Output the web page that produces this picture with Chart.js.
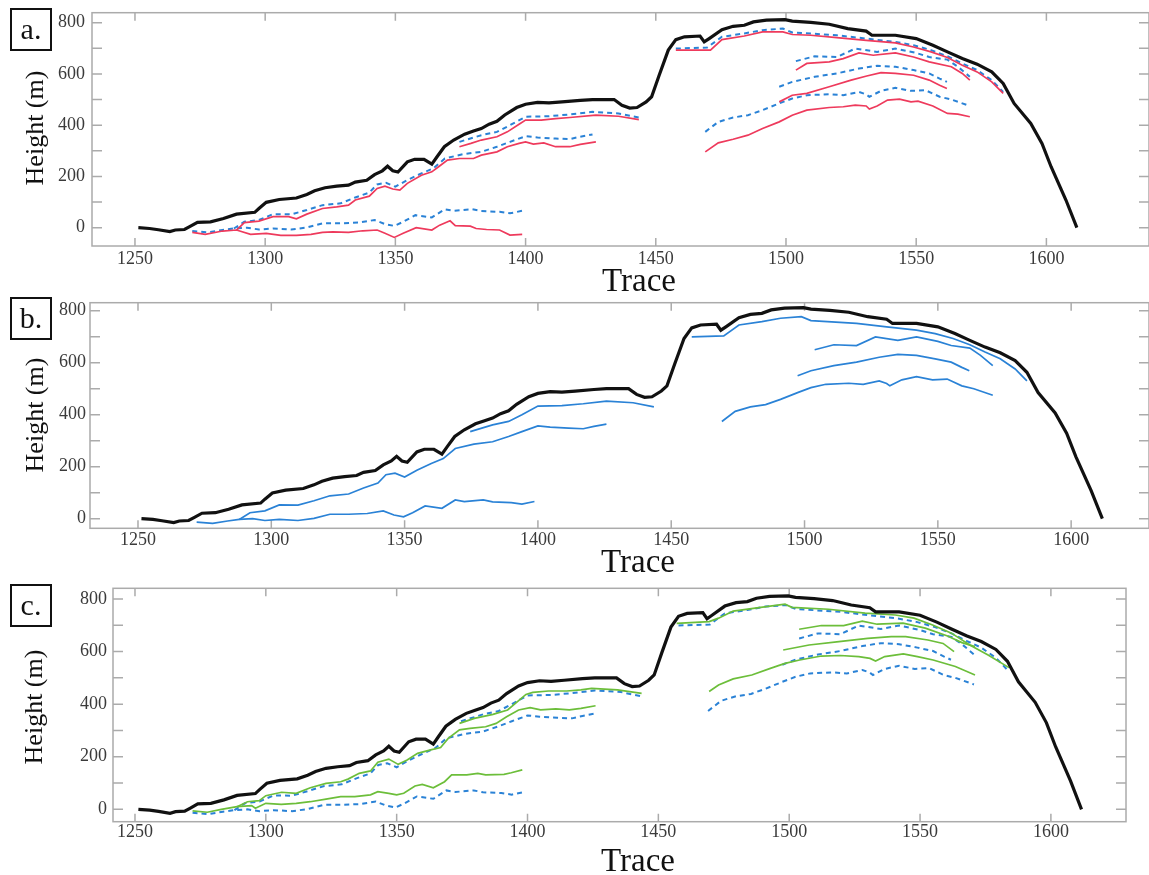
<!DOCTYPE html>
<html>
<head>
<meta charset="utf-8">
<script src="https://cdn.jsdelivr.net/npm/chart.js@4.4.1/dist/chart.umd.min.js"></script>
<style>
  html, body { margin: 0; padding: 0; background: #fff; }
  body { position: relative; width: 1149px; height: 875px; overflow: hidden; font-family: "Liberation Serif", serif; }
  canvas { position: absolute; left: 0; }
  .tag { position: absolute; left: 10px; width: 38px; height: 39px; border: 2px solid #111; font-size: 30px; line-height: 37px; text-align: center; color: #111; }
  .ytitle { position: absolute; font-size: 26px; line-height: 26px; white-space: nowrap; color: #111; transform: translate(-50%, -50%) rotate(-90deg); }
  .xtitle { position: absolute; font-size: 33px; line-height: 33px; white-space: nowrap; color: #111; transform: translateX(-50%); }
</style>
</head>
<body>
<canvas id="chartA" width="1149" height="275" style="top:0px"></canvas>
<canvas id="chartB" width="1149" height="275" style="top:290px"></canvas>
<canvas id="chartC" width="1149" height="275" style="top:575px"></canvas>

<div class="tag" style="top:8px">a.</div>
<div class="tag" style="top:297px">b.</div>
<div class="tag" style="top:584px">c.</div>

<div class="ytitle" style="left:35px;top:128px">Height (m)</div>
<div class="ytitle" style="left:35px;top:415px">Height (m)</div>
<div class="ytitle" style="left:34px;top:707px">Height (m)</div>

<div class="xtitle" style="left:639px;top:264px">Trace</div>
<div class="xtitle" style="left:638px;top:545px">Trace</div>
<div class="xtitle" style="left:638px;top:844px">Trace</div>

<script>
// tick values shared by all three panels
const xTicks = [1250, 1300, 1350, 1400, 1450, 1500, 1550, 1600];
const yTicks = [0, 200, 400, 600, 800];
const yMinorTicks = [100, 300, 500, 700];

// ground surface, [trace, height]
const surface = [[1251.3,0],[1255.6,-3],[1259,-8],[1263.4,-15],[1265.5,-9],[1269,-7],[1271,4],[1274,21],[1279,23],[1284,36],[1289,53],[1296,60],[1297.6,75],[1300.4,99],[1305.4,110],[1312,116],[1316,130],[1319,144],[1323,156],[1327.5,162],[1332,166],[1334.6,178],[1339,185],[1342,207],[1345,222],[1347,240],[1349,222],[1351,217],[1354.6,257],[1357.4,267],[1361,267],[1364,248],[1366,277],[1368.8,316],[1372.4,342],[1376.6,365],[1380,377],[1383,387],[1386,404],[1389,415],[1392,440],[1396.6,469],[1400,482],[1404.6,489],[1409,487],[1414,491],[1421,497],[1425.7,500],[1434,500],[1437,478],[1440,467],[1442.8,469],[1446.3,491],[1448.4,511],[1451.3,595],[1454.8,693],[1457.7,734],[1461,745],[1467,748],[1468.6,725],[1470.5,738],[1475.4,773],[1479.7,786],[1484,790],[1487.5,803],[1492.5,810],[1499.6,812],[1502.4,806],[1509.5,801],[1516.6,794],[1523.7,777],[1530.8,767],[1533,751],[1542,751],[1550,738],[1556.4,712],[1562,686],[1567.7,660],[1573.4,638],[1579,608],[1583.4,563],[1587.6,485],[1594,407],[1598.3,329],[1601.8,238],[1607.5,108],[1611.7,0]];

// blue horizons (dashed in a and c, solid in b)
const blueL1 = [[1272,-13],[1278,-18],[1283.6,-9],[1288,-3],[1293,0],[1297.6,-7],[1303,-3],[1310,-7],[1316,1],[1322,17],[1329,17],[1336,20],[1342,30],[1346,14],[1349.6,7],[1353,23],[1357.7,49],[1364,40],[1369,72],[1372.4,66],[1379.5,72],[1383,65],[1390,62],[1394,56],[1398.7,66]];
const blueL2 = [[1288,-3],[1292,23],[1297.6,30],[1303,53],[1310,52],[1316,69],[1322,88],[1329,95],[1334.6,118],[1340,137],[1343,169],[1346.4,175],[1350,160],[1354.6,186],[1360,212],[1364.5,231],[1369,270],[1376,287],[1383,296],[1389,316],[1394,335],[1400,357],[1404.6,352],[1411.5,348],[1417,346],[1421,355],[1425.7,364]];
const blueL3 = [[1374.6,335],[1383,361],[1389,374],[1394,400],[1400,433],[1409,435],[1417,442],[1425.7,452],[1435.7,446],[1443.5,430]];
const blueR1 = [[1457.7,699],[1469.7,703],[1475.4,745],[1484,758],[1491,771],[1498.8,777],[1502.4,762],[1519.5,751],[1530.8,738],[1542,725],[1549,712],[1555.7,693],[1562,669],[1567.7,641],[1573.4,615],[1579,576],[1583.4,530]];
const blueR2 = [[1503.8,650],[1511,669],[1519.5,666],[1526.6,699],[1535,686],[1542,699],[1550,682],[1555,666],[1562,656],[1566,628],[1570.6,589]];
const blueR3 = [[1497.4,550],[1502.4,569],[1511,589],[1519.5,602],[1528,621],[1535,632],[1542,628],[1549,615],[1555,602],[1559,582],[1561.8,569]];
const blueR4 = [[1469,374],[1474,413],[1479.7,430],[1485.4,439],[1491,459],[1497.4,485],[1502.4,504],[1508,517],[1516.6,521],[1522,517],[1528,530],[1530.8,520],[1532,511],[1536.5,534],[1542,546],[1548,534],[1553.5,537],[1559,511],[1563.5,500],[1570.6,475]];

// red horizons (panel a)
const redL1 = [[1272,-18],[1277,-26],[1283.6,-13],[1289,-9],[1294.4,-26],[1300.4,-22],[1306,-30],[1312,-30],[1317.6,-26],[1322,-18],[1326,-16],[1332,-18],[1337.5,-12],[1343,-9],[1346,-22],[1349.6,-38],[1353,-22],[1358,0],[1364,-9],[1367,10],[1371,27],[1373,8],[1378.8,6],[1381,-3],[1385,-7],[1390,-9],[1394,-29],[1398.7,-26]];
const redL2 = [[1289,-9],[1292,20],[1297.6,26],[1303,43],[1309,43],[1312,35],[1316,53],[1322,75],[1327.5,81],[1332,88],[1334.6,108],[1340,123],[1343,153],[1346,162],[1349,151],[1351.7,147],[1354.6,173],[1360,205],[1364,218],[1366.6,238],[1370,264],[1374.6,270],[1380,270],[1383,283],[1389,296],[1393,316],[1397.5,329],[1400,335],[1403,326],[1407,331],[1411.5,316],[1417,316],[1421,325],[1427,335]];
const redL3 = [[1374.6,316],[1379,329],[1383,342],[1389,355],[1393,374],[1397.5,404],[1400,420],[1406,420],[1411.5,426],[1417,430],[1427,439],[1435.7,435],[1443.5,422]];
const redR1 = [[1457.7,693],[1471,693],[1475.4,734],[1484,748],[1491,764],[1498.8,764],[1502.4,754],[1509.5,751],[1519.5,742],[1530.8,731],[1542,721],[1549,705],[1555.7,686],[1562,664],[1567.7,634],[1573.4,608],[1579,569],[1583.4,524]];
const redR2 = [[1503.8,615],[1508,641],[1516.6,647],[1522,660],[1528,682],[1533.5,673],[1542,682],[1549,666],[1555,647],[1563.5,628],[1567.7,602],[1570.6,576]];
const redR3 = [[1497.4,491],[1502.4,517],[1508,524],[1516.6,550],[1525,576],[1531,592],[1536.5,605],[1542,602],[1549,595],[1555,576],[1559,556],[1561.8,543]];
const redR4 = [[1469,296],[1474,331],[1479.7,345],[1485.4,361],[1491,387],[1497.4,413],[1502.4,439],[1508,459],[1516.6,469],[1522,472],[1526.6,478],[1530.8,475],[1532,463],[1535,475],[1539,498],[1543.6,502],[1548,491],[1550.7,494],[1556.4,475],[1562,446],[1566,443],[1570.6,433]];

// green horizons (panel c)
const greenL1 = [[1272,-6],[1277.6,-11],[1283,0],[1289,10],[1294.6,14],[1296,4],[1300,23],[1305.9,19],[1311.6,23],[1317,29],[1323,39],[1328.6,48],[1334,48],[1340,55],[1342.8,67],[1347,61],[1350,55],[1352.7,61],[1357,89],[1359.8,95],[1364,82],[1368.3,105],[1371,131],[1376.8,131],[1381,137],[1384,131],[1391,133],[1393.8,139],[1398,150]];
const greenL2 = [[1289,10],[1293,29],[1297.5,33],[1300,52],[1306,65],[1311.6,61],[1317,82],[1323,99],[1328.6,105],[1331.4,115],[1335.7,137],[1340,146],[1342.8,179],[1347,191],[1350.6,171],[1354,188],[1358,213],[1363,226],[1366.8,235],[1369.7,270],[1374,302],[1378,308],[1384,314],[1388,327],[1392,352],[1396.6,378],[1401,387],[1405,378],[1410.8,382],[1416,378],[1420.4,384],[1426,394]];
const greenL3 = [[1374,327],[1379.7,346],[1386.8,361],[1392.4,378],[1399.4,437],[1402,445],[1408,450],[1415,450],[1420.4,454],[1424.5,460],[1434.4,454],[1443.6,441]];
const greenR1 = [[1457,707],[1469.4,714],[1473,727],[1478.6,754],[1487,765],[1498.4,780],[1501,768],[1515,761],[1529,746],[1540.6,739],[1547.7,727],[1554.8,701],[1562,670],[1569,625],[1576,587],[1584,539]];
const greenR2 = [[1503.8,685],[1512.3,699],[1520.8,699],[1527.9,716],[1533.6,704],[1543.5,708],[1552,689],[1560.5,659],[1566,634],[1571,619]];
const greenR3 = [[1497.7,606],[1507.6,625],[1519,638],[1530,650],[1539,657],[1544.5,657],[1553,644],[1558.8,631],[1563,600]];
const greenR4 = [[1469.4,448],[1473,473],[1478.6,496],[1485.7,511],[1492.8,536],[1498.4,555],[1504,568],[1512.3,583],[1519.5,585],[1526.6,581],[1530.9,574],[1533,564],[1536.5,581],[1543.6,591],[1549,581],[1555,568],[1563.5,543],[1571,511]];

const blueSet = [blueL1, blueL2, blueL3, blueR1, blueR2, blueR3, blueR4];
const redSet = [redL1, redL2, redL3, redR1, redR2, redR3, redR4];
const greenSet = [greenL1, greenL2, greenL3, greenR1, greenR2, greenR3, greenR4];

const RED = "rgb(238,58,92)";
const BLUE = "rgb(42,130,214)";
const GREEN = "rgb(108,190,58)";
const FRAME = "#ababab";

const toXY = (pts) => pts.map(([x, y]) => ({ x, y }));

function line(pts, color, width, dash) {
  return {
    data: toXY(pts),
    borderColor: color,
    borderWidth: width,
    borderDash: dash || [],
    pointRadius: 0,
    tension: 0,
    fill: false,
  };
}

// box around the plot with inward ticks on all four sides
const frameTicks = {
  id: "frameTicks",
  beforeDatasetsDraw(chart) {
    const { ctx, chartArea, scales } = chart;
    const { left, right, top, bottom } = chartArea;
    ctx.save();
    ctx.strokeStyle = FRAME;
    ctx.lineWidth = 1.5;
    ctx.strokeRect(left, top, right - left, bottom - top);
    ctx.beginPath();
    xTicks.forEach((v) => {
      const px = scales.x.getPixelForValue(v);
      ctx.moveTo(px, top); ctx.lineTo(px, top + 8);
      ctx.moveTo(px, bottom); ctx.lineTo(px, bottom - 8);
    });
    yTicks.concat(yMinorTicks).forEach((v) => {
      const py = scales.y.getPixelForValue(v);
      ctx.moveTo(left, py); ctx.lineTo(left + 10, py);
      ctx.moveTo(right, py); ctx.lineTo(right - 10, py);
    });
    ctx.stroke();
    ctx.restore();
  },
};

const tickFont = { family: "'Liberation Serif', serif", size: 18 };

function makePanel(id, datasets, box) {
  return new Chart(document.getElementById(id), {
    type: "line",
    data: { datasets },
    options: {
      responsive: false,
      animation: false,
      events: [],
      layout: { padding: { top: box.top, right: box.right, left: 0, bottom: 0 } },
      plugins: { legend: { display: false }, tooltip: { enabled: false } },
      scales: {
        x: {
          type: "linear",
          min: box.xMin,
          max: box.xMax,
          grid: { display: false, drawTicks: false },
          border: { display: false },
          afterBuildTicks: (s) => { s.ticks = xTicks.map((v) => ({ value: v })); },
          afterFit: (s) => {
            s.height = box.xAxisH;
            s.paddingLeft = s.paddingRight = s.paddingTop = s.paddingBottom = 0;
          },
          ticks: { padding: box.xPad, font: tickFont, color: "#3a3a3a", maxRotation: 0, callback: (v) => String(v) },
        },
        y: {
          type: "linear",
          min: box.yMin,
          max: box.yMax,
          grid: { display: false, drawTicks: false },
          border: { display: false },
          afterBuildTicks: (s) => { s.ticks = yTicks.map((v) => ({ value: v })); },
          afterFit: (s) => {
            s.width = box.yAxisW;
            s.paddingLeft = s.paddingRight = s.paddingTop = s.paddingBottom = 0;
          },
          ticks: { padding: box.yPad, font: tickFont, color: "#3a3a3a", callback: (v) => String(v) },
        },
      },
    },
    plugins: [frameTicks],
  });
}

const ground = line(surface, "#111", 3.2);

makePanel("chartA",
  [ground].concat(redSet.map((p) => line(p, RED, 1.7)), blueSet.map((p) => line(p, BLUE, 2, [5, 4]))),
  { top: 12.7, right: 0, xAxisH: 29, yAxisW: 92, xMin: 1233.5, xMax: 1639.4, yMin: -71.4, yMax: 839, xPad: 2, yPad: 7 });

makePanel("chartB",
  [ground].concat(blueSet.map((p) => line(p, BLUE, 1.7))),
  { top: 12.7, right: 0, xAxisH: 36.7, yAxisW: 90, xMin: 1232, xMax: 1629.2, yMin: -37, yMax: 830.8, xPad: 1, yPad: 4 });

makePanel("chartC",
  [ground].concat(greenSet.map((p) => line(p, GREEN, 1.7)), blueSet.map((p) => line(p, BLUE, 2, [5, 4]))),
  { top: 13.3, right: 23, xAxisH: 28.3, yAxisW: 113, xMin: 1241.6, xMax: 1628.7, yMin: -47, yMax: 840.6, xPad: 0, yPad: 6 });
</script>
</body>
</html>
